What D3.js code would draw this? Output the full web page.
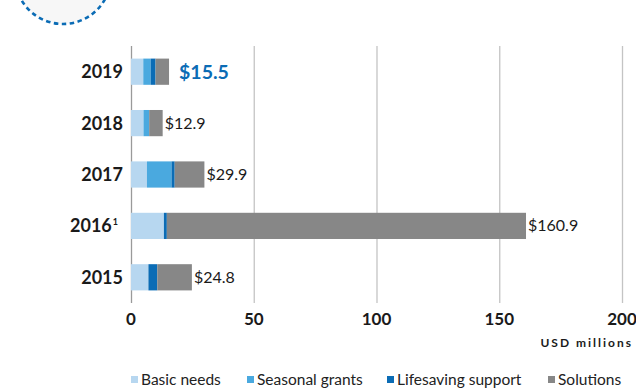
<!DOCTYPE html>
<html>
<head>
<meta charset="utf-8">
<script src="https://cdn.jsdelivr.net/npm/d3@7"></script>
<style>
  body { margin: 0; background: #fff; }
  svg { display: block; font-family: Lato, "Open Sans", sans-serif; }
</style>
</head>
<body>
<svg width="636" height="389"></svg>
<script>
// data
var years = ["2019", "2018", "2017", "2016", "2015"];
var basicNeeds = [5.0, 5.1, 6.5, 13.4, 7.1];
var seasonalGrants = [3.0, 2.3, 10.0, 0, 0];
var lifesaving = [2.0, 0, 1.3, 1.2, 3.6];
var solutions = [5.5, 5.5, 12.1, 146.3, 14.1];
var totals = ["$15.5", "$12.9", "$29.9", "$160.9", "$24.8"];
var xTicks = [0, 50, 100, 150, 200];
var seriesNames = ["Basic needs", "Seasonal grants", "Lifesaving support", "Solutions"];
var colors = ["#b7d7f0", "#4aa9df", "#0b6cb5", "#878787"];

var svg = d3.select("svg");
var plotLeft = 131, plotRight = 622, plotTop = 46, plotBottom = 303;

var x = d3.scaleLinear().domain([0, 200]).range([plotLeft, plotRight]);
var y = d3.scaleBand().domain(years).range([plotTop, plotBottom]).paddingInner(0.49).paddingOuter(0.245);

// dashed circle in the corner
svg.append("circle")
    .attr("cx", 63).attr("cy", -24).attr("r", 48)
    .attr("fill", "#f7f7f7")
    .attr("stroke", "#0b6cb5")
    .attr("stroke-width", 2.6)
    .attr("stroke-dasharray", "4.5 3.5");

// grid
svg.append("g").selectAll("line")
    .data(xTicks)
    .enter().append("line")
    .attr("x1", d => x(d) + 0.5).attr("x2", d => x(d) + 0.5)
    .attr("y1", plotTop).attr("y2", plotBottom)
    .attr("stroke", d => d == 0 ? "#9a9a9a" : "#c4c4c4")
    .attr("stroke-width", 1.3);

// stacked bars
var rows = years.map(function(yr, i) {
  return { year: yr, vals: [basicNeeds[i], seasonalGrants[i], lifesaving[i], solutions[i]] };
});
var stack = d3.stack().keys([0, 1, 2, 3]).value((d, k) => d.vals[k]);
var layers = stack(rows);

svg.append("g").selectAll("g")
    .data(layers)
    .enter().append("g")
    .attr("fill", (d, i) => colors[i])
    .selectAll("rect")
    .data(d => d)
    .enter().append("rect")
    .attr("x", d => x(d[0]))
    .attr("width", d => x(d[1]) - x(d[0]))
    .attr("y", d => y(d.data.year))
    .attr("height", y.bandwidth());

// year labels
var yl = svg.append("g").selectAll("text")
    .data(years)
    .enter().append("text")
    .attr("x", 123)
    .attr("y", d => y(d) + y.bandwidth() / 2 + 6.5)
    .attr("text-anchor", "end")
    .attr("font-size", 18)
    .attr("font-weight", "bold")
    .attr("fill", "#1a1a1a")
    .text(d => d);
yl.filter(d => d == "2016")
    .attr("x", 118)
    .append("tspan")
    .attr("font-size", 9).attr("dy", -7).attr("dx", 1)
    .text("1");

// value labels
svg.append("g").selectAll("text")
    .data(rows)
    .enter().append("text")
    .attr("x", (d, i) => x(d3.sum(d.vals)) + (i == 0 ? 10 : 2))
    .attr("y", (d, i) => y(d.year) + y.bandwidth() / 2 + (i == 0 ? 7 : 5.5))
    .attr("font-size", (d, i) => i == 0 ? 19.5 : 16)
    .attr("font-weight", (d, i) => i == 0 ? "bold" : "normal")
    .attr("fill", (d, i) => i == 0 ? "#0b6cb5" : "#1a1a1a")
    .text((d, i) => totals[i]);

// x axis tick labels
svg.append("g").selectAll("text")
    .data(xTicks)
    .enter().append("text")
    .attr("x", d => x(d))
    .attr("y", 325)
    .attr("text-anchor", "middle")
    .attr("font-size", 17)
    .attr("font-weight", "bold")
    .attr("fill", "#1a1a1a")
    .text(d => d);

svg.append("text")
    .attr("x", 633).attr("y", 347)
    .attr("text-anchor", "end")
    .attr("font-size", 12)
    .attr("font-weight", "bold")
    .attr("letter-spacing", 2)
    .attr("fill", "#1a1a1a")
    .text("USD millions");

// legend
var legendX = [131, 247, 387, 548];
var lg = svg.append("g").selectAll("g")
    .data(seriesNames)
    .enter().append("g")
    .attr("transform", (d, i) => "translate(" + legendX[i] + ",380)");
lg.append("rect")
    .attr("x", 0).attr("y", -4).attr("width", 7).attr("height", 7)
    .attr("fill", (d, i) => colors[i]);
lg.append("text")
    .attr("x", 10).attr("y", 5)
    .attr("font-size", 15.5)
    .attr("fill", "#222")
    .text(d => d);
</script>
</body>
</html>
